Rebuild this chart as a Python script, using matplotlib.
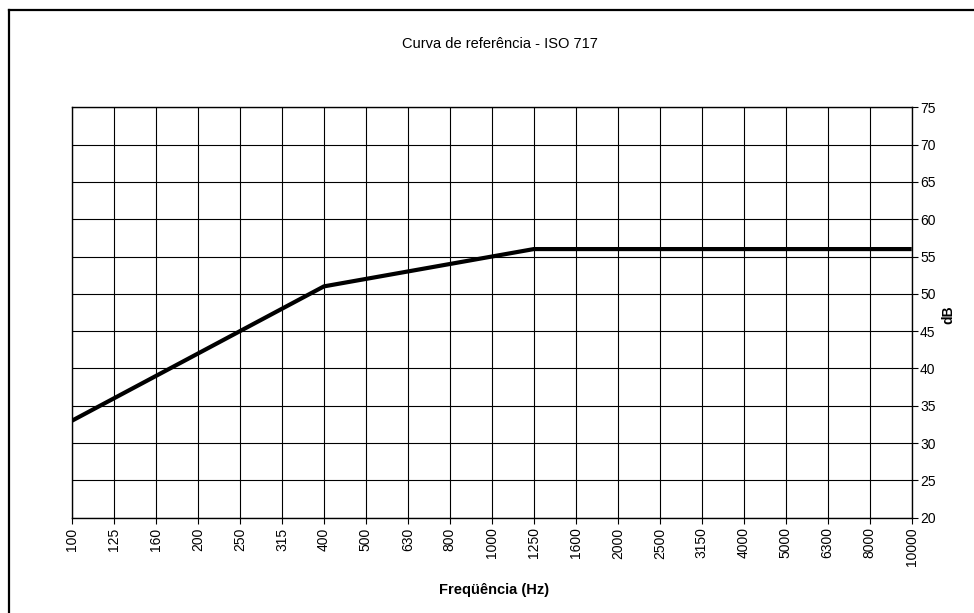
import matplotlib
matplotlib.use("Agg")
import matplotlib.pyplot as plt
from matplotlib.lines import Line2D

plt.rcParams['font.family'] = ['Liberation Sans', 'DejaVu Sans']

freqs = ["100", "125", "160", "200", "250", "315", "400", "500", "630", "800",
         "1000", "1250", "1600", "2000", "2500", "3150", "4000", "5000", "6300",
         "8000", "10000"]
values = [33, 36, 39, 42, 45, 48, 51, 52, 53, 54, 55, 56, 56, 56, 56, 56, 56,
          56, 56, 56, 56]
yticks = [20, 25, 30, 35, 40, 45, 50, 55, 60, 65, 70, 75]

W, H = 974, 613
fig = plt.figure(figsize=(W / 100, H / 100), dpi=100)
ax = fig.add_axes([72 / W, (H - 517.7) / H, (911.7 - 72) / W, (517.7 - 107.3) / H])

x = list(range(len(freqs)))
ax.plot(x, values, color='black', lw=3.0, solid_capstyle='butt', zorder=3)

ax.set_xlim(0, len(freqs) - 1)
ax.set_ylim(20, 75)
ax.set_xticks(x)
ax.set_xticklabels(freqs, rotation=90, fontsize=10)
ax.set_yticks(yticks)
ax.yaxis.tick_right()
ax.yaxis.set_label_position('right')
ax.tick_params(axis='y', labelsize=10, length=4, width=0.8, direction='out', pad=2)
ax.tick_params(axis='x', length=4, width=0.8, direction='out', pad=3)
ax.grid(True, color='black', lw=0.8)
for s in ax.spines.values():
    s.set_linewidth(1.0)

fig.text(494 / W, 1 - 590 / H, "Freqüência (Hz)", ha='center', va='center',
         fontsize=10.5, fontweight='bold')
fig.text(948 / W, 1 - 315 / H, "dB", ha='center', va='center', rotation=90,
         fontsize=10, fontweight='bold')

fig.text(500 / W, 1 - 44 / H, "Curva de referência - ISO 717", ha='center', va='center', fontsize=10.5)

fig.add_artist(Line2D([9 / W, 1], [1 - 10 / H, 1 - 10 / H], color='black', lw=1.6, transform=fig.transFigure))
fig.add_artist(Line2D([9 / W, 9 / W], [0, 1 - 10 / H], color='black', lw=1.6, transform=fig.transFigure))

fig.savefig("out.png", dpi=100)
